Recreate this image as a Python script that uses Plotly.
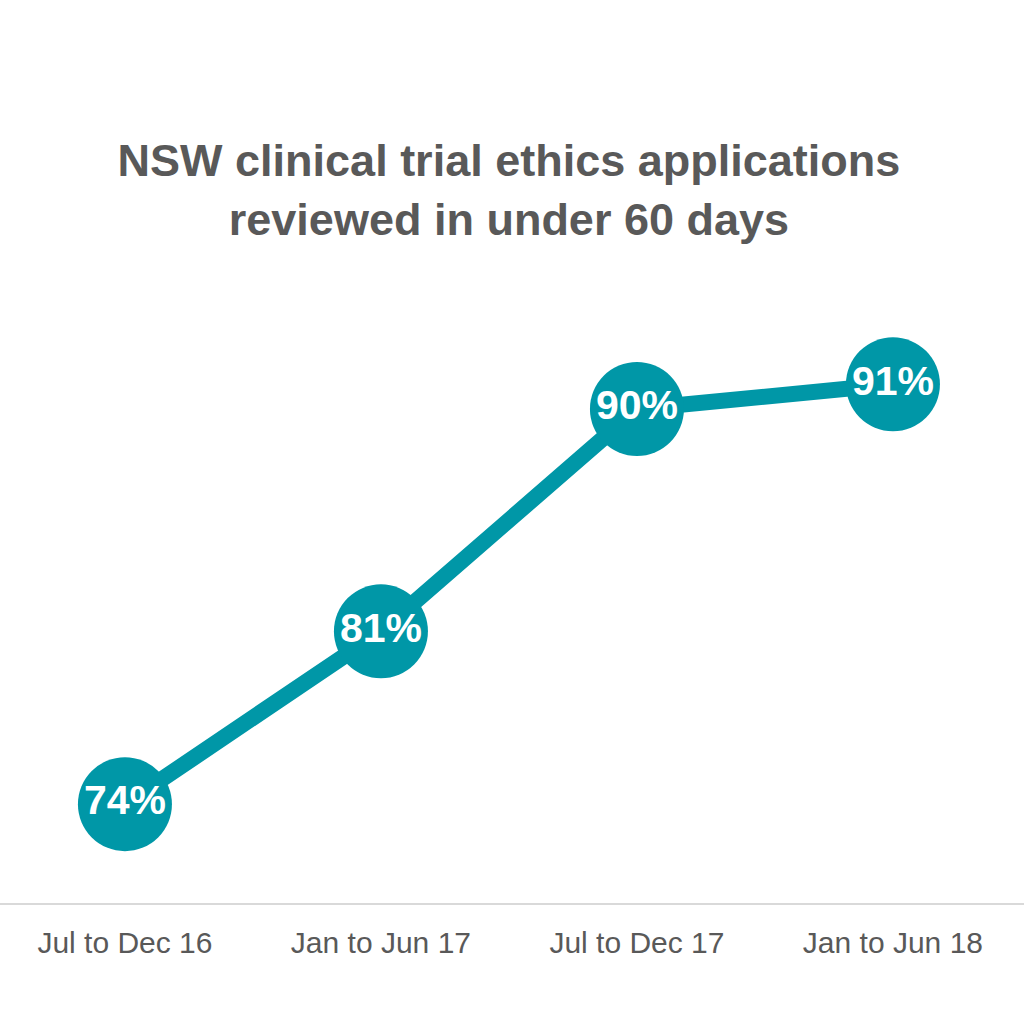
import plotly.graph_objects as go

categories = ["Jul to Dec 16", "Jan to Jun 17", "Jul to Dec 17", "Jan to Jun 18"]
values = [74, 81, 90, 91]
labels = ["74%", "81%", "90%", "91%"]

TEAL = "#0097A7"
GREY = "#595959"
FONT = "Liberation Sans, Arial, sans-serif"

fig = go.Figure()
fig.add_trace(go.Scatter(
    x=categories, y=values,
    mode="lines+markers+text",
    line=dict(color=TEAL, width=16),
    marker=dict(color=TEAL, size=94),
    text=labels,
    textposition="middle center",
    textfont=dict(color="white", size=41, family=FONT, weight="bold"),
    cliponaxis=False,
    hoverinfo="skip",
))

fig.update_layout(
    width=1024, height=1024,
    margin=dict(l=0, r=0, t=162, b=121),
    paper_bgcolor="white", plot_bgcolor="white",
    showlegend=False,
    title=dict(
        text="<b>NSW clinical trial ethics applications<br>reviewed in under 60 days</b>",
        x=0.497, xanchor="center", xref="paper",
        y=1 - 176/1024, yanchor="middle", yref="container",
        font=dict(family=FONT, size=45, color=GREY),
    ),
    xaxis=dict(
        type="category", range=[-0.488, 3.512],
        showgrid=False, zeroline=False,
        showline=True, linecolor="#D9D9D9", linewidth=2,
        ticks="", tickfont=dict(family=FONT, size=30, color=GREY),
        ticklabelstandoff=12,
    ),
    yaxis=dict(
        range=[70, 100], visible=False, showgrid=False, zeroline=False,
    ),
)

fig.write_html(
    "out.html",
    config={"displayModeBar": False},
    post_script="document.body.style.margin='0';document.body.style.overflow='hidden';",
)
